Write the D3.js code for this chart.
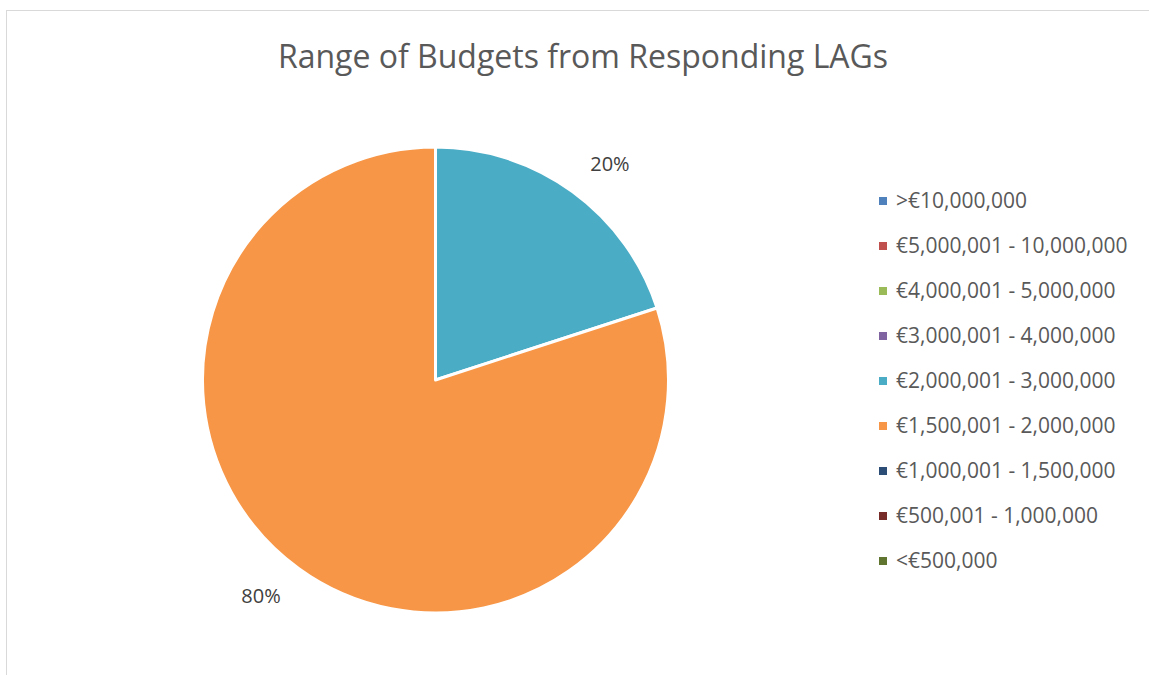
<!DOCTYPE html>
<html>
<head>
<meta charset="utf-8">
<script src="https://cdn.jsdelivr.net/npm/d3@7"></script>
<style>
  body { margin: 0; background: #fff; }
  svg text { font-family: "Open Sans", "Liberation Sans", sans-serif; }
</style>
</head>
<body>
<svg width="1149" height="675"></svg>
<script>
// budget ranges, top of the legend first
const categories = [
    ">€10,000,000",
    "€5,000,001 - 10,000,000",
    "€4,000,001 - 5,000,000",
    "€3,000,001 - 4,000,000",
    "€2,000,001 - 3,000,000",
    "€1,500,001 - 2,000,000",
    "€1,000,001 - 1,500,000",
    "€500,001 - 1,000,000",
    "<€500,000"
]
// share of responding LAGs (%)
const shares = [0, 0, 0, 0, 20, 80, 0, 0, 0]
const colours = ["#4F81BD", "#C0504D", "#9BBB59", "#8064A2", "#4BACC6", "#F79646", "#2C4D75", "#772C2A", "#5F7530"]

const svg = d3.select("svg")

// chart area frame (right and bottom edges cut off in the original)
svg.append("rect")
    .attr("x", 6.5).attr("y", 10.5)
    .attr("width", 1200).attr("height", 700)
    .attr("fill", "none")
    .attr("stroke", "#d9d9d9")
    .attr("stroke-width", 1)

svg.append("text")
    .attr("x", 583).attr("y", 68)
    .attr("text-anchor", "middle")
    .attr("font-size", 32)
    .attr("fill", "#595959")
    .text("Range of Budgets from Responding LAGs")

const cx = 435.5, cy = 380, r = 233
const data = categories.map((c, i) => ({ name: c, value: shares[i], colour: colours[i] }))

const pie = d3.pie().value(d => d.value).sort(null)
const arc = d3.arc().innerRadius(0).outerRadius(r)

const slices = pie(data).filter(d => d.data.value > 0)
const g = svg.append("g").attr("transform", `translate(${cx},${cy})`)
g.selectAll("path").data(slices).enter().append("path")
    .attr("d", arc)
    .attr("fill", d => d.data.colour)
    .attr("stroke", "#fff")
    .attr("stroke-width", 3)
    .attr("stroke-linejoin", "round")

// labels sit just outside the rim, nudged a little clockwise like Excel's best fit
const labelPos = d => {
    const a = (d.startAngle + d.endAngle) / 2 + 0.05
    return [278 * Math.sin(a), -278 * Math.cos(a)]
}
g.selectAll("text").data(slices).enter().append("text")
    .attr("transform", d => `translate(${labelPos(d)})`)
    .attr("text-anchor", "middle")
    .attr("dy", "0.35em")
    .attr("font-size", 20)
    .attr("fill", "#404040")
    .text(d => d.data.value + "%")

// legend
const ly = d3.scalePoint().domain(categories).range([201, 561])
const legend = svg.append("g")
const item = legend.selectAll("g").data(data).enter().append("g")
    .attr("transform", d => `translate(879,${ly(d.name)})`)
item.append("rect")
    .attr("x", 0).attr("y", -4)
    .attr("width", 8).attr("height", 8)
    .attr("fill", d => d.colour)
item.append("text")
    .attr("x", 17).attr("dy", "0.35em")
    .attr("font-size", 21)
    .attr("fill", "#595959")
    .text(d => d.name)
</script>
</body>
</html>
